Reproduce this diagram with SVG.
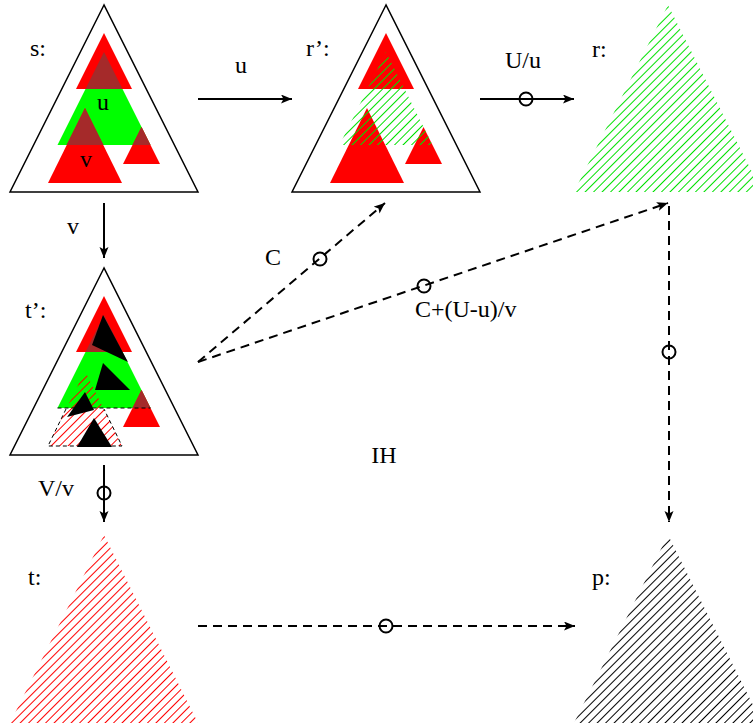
<svg xmlns="http://www.w3.org/2000/svg" width="753" height="723" viewBox="0 0 753 723">
<defs>
<pattern id="hg" patternUnits="userSpaceOnUse" width="6" height="6" patternTransform="rotate(-45)"><line x1="0" y1="3" x2="6" y2="3" stroke="#00e000" stroke-width="1" shape-rendering="crispEdges"/></pattern>
<pattern id="hr" patternUnits="userSpaceOnUse" width="6" height="6" patternTransform="rotate(-45)"><line x1="0" y1="3" x2="6" y2="3" stroke="#ff0000" stroke-width="1" shape-rendering="crispEdges"/></pattern>
<pattern id="hk" patternUnits="userSpaceOnUse" width="6" height="6" patternTransform="rotate(-45)"><line x1="0" y1="3" x2="6" y2="3" stroke="#000000" stroke-width="1" shape-rendering="crispEdges"/></pattern>
<marker id="ah" markerWidth="13" markerHeight="10" refX="11" refY="4.5" orient="auto" markerUnits="userSpaceOnUse"><path d="M0,0 L11,4.5 L0,9 L2.5,4.5 z" fill="#000"/></marker>
</defs>
<style>
.o{fill:#fff;stroke:#000;stroke-width:1.5}
.r{fill:#ff0000}
.g{fill:#00ff00}
.b{fill:#a52a2a}
.k{fill:#000}
.t{font-family:"Liberation Serif","Times New Roman",serif;font-size:24px;fill:#000}
.a{stroke:#000;stroke-width:2;fill:none}
.d{stroke:#000;stroke-width:2;fill:none;stroke-dasharray:9,6}
.e{stroke:#000;stroke-width:1;fill:none;stroke-dasharray:4,3}
.c{stroke:#000;stroke-width:2;fill:none}
</style>
<rect width="753" height="723" fill="#fff"/>

<g id="s">
<polygon class="o" points="104,5 10,192 198,192"/>
<polygon class="g" points="104,52 57.5,145 150.5,145"/>
<polygon class="r" points="104,33 76,89 132,89"/>
<polygon class="b" points="104,52 85.5,89 122.5,89"/>
<polygon class="r" points="85,108 48,183 122,183"/>
<polygon class="b" points="85,108 66.5,145 103.5,145"/>
<polygon class="r" points="141.5,127 123,164 160,164"/>
<polygon class="b" points="141.5,127 132.5,145 150.5,145"/>
<text class="t" x="30" y="56">s:</text>
<text class="t" x="103" y="110" text-anchor="middle">u</text>
<text class="t" x="86" y="167" text-anchor="middle">v</text>
</g>

<g id="rprime">
<polygon class="o" points="386,5 292,192 480,192"/>
<polygon class="r" points="386,33 358,89 414,89"/>
<polygon class="r" points="367,108 330,183 404,183"/>
<polygon class="r" points="423.5,127 405,164 442,164"/>
<polygon fill="url(#hg)" points="386,52 339.5,145 432.5,145"/>
<text class="t" x="306" y="56">r’:</text>
</g>

<g id="r">
<polygon fill="url(#hg)" points="668,5 574,192 762,192"/>
<text class="t" x="592" y="57">r:</text>
</g>

<g id="tprime">
<polygon class="o" points="104,268 10,455 198,455"/>
<polygon class="g" points="104,315 57.5,408 150.5,408"/>
<polygon class="r" points="104,296 76,352 132,352"/>
<polygon class="b" points="104,315 85.5,352 122.5,352"/>
<polygon class="r" points="141.5,390 123,427 160,427"/>
<polygon class="b" points="141.5,390 132.5,408 150.5,408"/>
<polygon fill="url(#hr)" points="85,371 48,446 122,446"/>
<polyline class="e" points="57.5,408 150.5,408"/>
<polyline class="e" points="66,409 48,446 122,446 104,409"/>
<polygon class="k" points="103,315 92,345 128,362"/>
<polygon class="k" points="103,363 95,390 130,390"/>
<polygon class="k" points="85,392 67,417 94,410"/>
<polygon class="k" points="94,418 77,447 112,447"/>
<text class="t" x="25" y="318">t’:</text>
</g>

<g id="t">
<polygon fill="url(#hr)" points="104,535 10,723 198,723"/>
<text class="t" x="28" y="585">t:</text>
</g>

<g id="p">
<polygon fill="url(#hk)" points="668,535 574,723 762,723"/>
<text class="t" x="592" y="585">p:</text>
</g>

<g id="connectors">
<line class="a" x1="198" y1="99" x2="292" y2="99" marker-end="url(#ah)"/>
<text class="t" x="241" y="73" text-anchor="middle">u</text>
<line class="a" x1="480" y1="99" x2="574" y2="99" marker-end="url(#ah)"/>
<circle class="c" cx="526" cy="99" r="6.5"/>
<text class="t" x="505" y="68">U/u</text>
<line class="a" x1="104" y1="203" x2="104" y2="258" marker-end="url(#ah)"/>
<text class="t" x="73" y="234" text-anchor="middle">v</text>
<line class="a" x1="104" y1="465" x2="104" y2="522" marker-end="url(#ah)"/>
<circle class="c" cx="104" cy="493" r="6.5"/>
<text class="t" x="38" y="496">V/v</text>
<line class="d" x1="198" y1="362" x2="385" y2="203" marker-end="url(#ah)"/>
<circle class="c" cx="320" cy="259" r="6.5"/>
<text class="t" x="265" y="265">C</text>
<line class="d" x1="198" y1="362" x2="668" y2="203" marker-end="url(#ah)"/>
<circle class="c" cx="424" cy="286" r="6.5"/>
<text class="t" x="415" y="317">C+(U-u)/v</text>
<line class="d" x1="669" y1="206" x2="669" y2="522" marker-end="url(#ah)"/>
<circle class="c" cx="669" cy="352" r="6.5"/>
<line class="d" x1="198" y1="626" x2="575" y2="626" marker-end="url(#ah)"/>
<circle class="c" cx="386" cy="626" r="6.5"/>
<text class="t" x="384" y="463" text-anchor="middle">IH</text>
</g>
</svg>
